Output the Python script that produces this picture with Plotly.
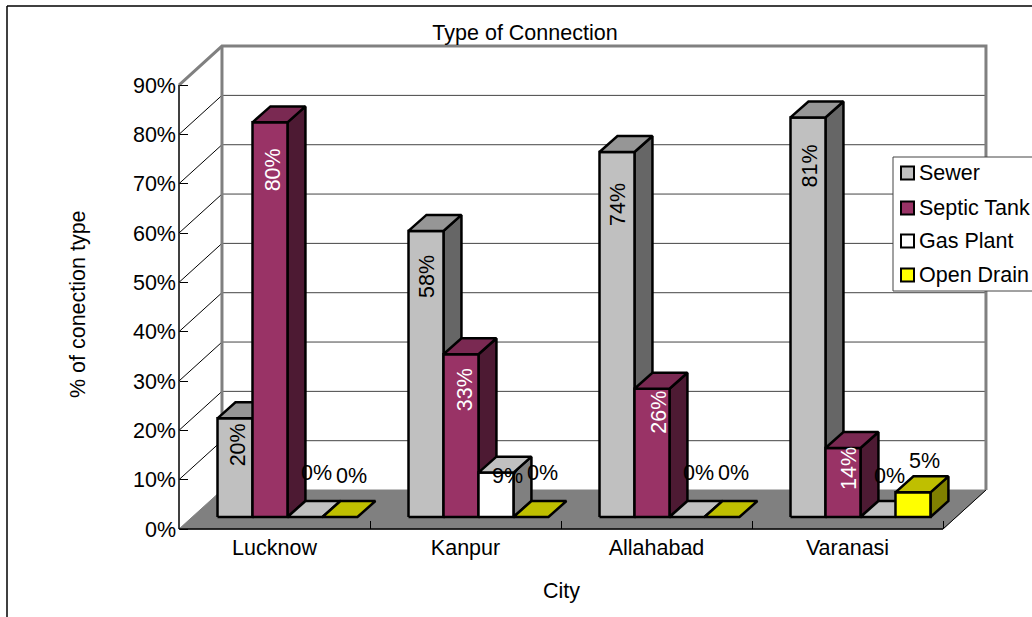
import plotly.graph_objects as go

cities = ["Lucknow", "Kanpur", "Allahabad", "Varanasi"]
series_names = ["Sewer", "Septic Tank", "Gas Plant", "Open Drain"]
sewer = [20, 58, 74, 81]
septic_tank = [80, 33, 26, 14]
gas_plant = [0, 9, 0, 0]
open_drain = [0, 0, 0, 5]
series_values = [sewer, septic_tank, gas_plant, open_drain]
y_ticks = list(range(0, 100, 10))
y_tick_text = [f"{t}%" for t in y_ticks]

# face colours per series: front, top, side
FACES = [
    ("#C0C0C0", "#969696", "#666666"),
    ("#993366", "#7A2952", "#4D1A33"),
    ("#FFFFFF", "#C0C0C0", "#808080"),
    ("#FFFF00", "#BFBF00", "#808000"),
]
FONT = "Liberation Sans, Arial, sans-serif"
FS = 21.5

# plotting rectangle in page pixels; it is larger than the front plane so the
# oblique walls fit inside the clip region
W, H = 1032, 617
L, R, T, B = 170, 1000, 40, 535
# front plane anchors
ORIGIN_X, ORIGIN_Y = 179, 529
PX_PER_CAT, PX_PER_PCT = 191.0, 4.933


def page_x(x):
    return (x - L) / (R - L)


def page_y(y):
    return (B - y) / (B - T)


# oblique projection, in axis units (categories horizontally, percent vertically)
WALL_DX, WALL_DY = 0.225, 7.9
BAR_DX, BAR_DY = 0.094, 3.24
BAR_LIFT = 2.43
BAR_START = 0.2016
BAR_W = 0.1832

# rotated label placement (pixels): drop below the bar top, sideways nudge
ROT_DROP = {0: [27, 46, 53, 49], 1: [47, 35, 23, 20]}
ROT_NUDGE = {0: [3, 1, 1, 2], 1: [3, 4, 7, 6]}
# horizontal label height in percent of the front axis
FLAT_LEVEL = {(0, 2): 11.4, (0, 3): 10.75, (1, 2): 10.75, (1, 3): 11.4,
              (2, 2): 11.4, (2, 3): 11.4, (3, 2): 10.75, (3, 3): 13.8}

fig = go.Figure()


def poly(xs, ys, fill=None, line="#000000", width=2.5):
    fig.add_trace(go.Scatter(
        x=xs, y=ys, mode="lines", showlegend=False, hoverinfo="skip",
        fill="toself" if fill else None, fillcolor=fill,
        line=dict(color=line, width=width),
    ))


# floor
poly([0, 4, 4 + WALL_DX, WALL_DX, 0], [0, 0, WALL_DY, WALL_DY, 0], fill="#808080", line="#808080", width=1)
poly([4, 4 + WALL_DX], [0, WALL_DY], line="#000000", width=1)

# back wall grid and side wall diagonals
for t in y_ticks[1:-1]:
    poly([WALL_DX, 4 + WALL_DX], [t + WALL_DY] * 2, line="#444444", width=1)
    poly([0, WALL_DX], [t, t + WALL_DY], line="#000000", width=1)

# wall outline
poly([0, WALL_DX, 4 + WALL_DX, 4 + WALL_DX],
     [90, 90 + WALL_DY, 90 + WALL_DY, WALL_DY], line="#808080", width=3)
poly([WALL_DX, WALL_DX], [WALL_DY, 90 + WALL_DY], line="#808080", width=3)

# front axis lines
poly([0, 0], [0, 90], line="#000000", width=1.5)
poly([0, 4], [0, 0], line="#000000", width=1.5)

# bars, back to front within each city
annotations = []
for c in range(len(cities)):
    for s, values in enumerate(series_values):
        v = values[c]
        front, top, side = FACES[s]
        x0 = c + BAR_START + s * BAR_W
        x1 = x0 + BAR_W
        y0 = BAR_LIFT
        y1 = BAR_LIFT + v
        if v > 0:
            poly([x1, x1 + BAR_DX, x1 + BAR_DX, x1, x1],
                 [y0, y0 + BAR_DY, y1 + BAR_DY, y1, y0], fill=side)
            poly([x0, x1, x1, x0, x0], [y0, y0, y1, y1, y0], fill=front)
        poly([x0, x1, x1 + BAR_DX, x0 + BAR_DX, x0],
             [y1, y1, y1 + BAR_DY, y1 + BAR_DY, y1], fill=top)

# value labels go on last so later bars never cover them
for c in range(len(cities)):
    for s, values in enumerate(series_values):
        v = values[c]
        x0 = c + BAR_START + s * BAR_W
        if v >= 10:
            annotations.append(dict(
                x=x0 + BAR_W / 2, y=BAR_LIFT + v, text=f"{v}%", textangle=-90, showarrow=False,
                xshift=ROT_NUDGE[s][c], yshift=-ROT_DROP[s][c],
                font=dict(family=FONT, size=FS, color="#FFFFFF" if s == 1 else "#000000"),
            ))
        else:
            annotations.append(dict(
                x=x0 + BAR_W / 2, y=FLAT_LEVEL[(c, s)], text=f"{v}%", showarrow=False, xshift=11.5,
                font=dict(family=FONT, size=FS, color="#000000"),
            ))

# axis titles are centred on the front plane, not on the whole plotting rectangle
annotations.append(dict(xref="x", yref="paper", x=2, y=page_y(591), text="City", showarrow=False,
                        xanchor="center", yanchor="middle",
                        font=dict(family=FONT, size=FS, color="#000000")))
annotations.append(dict(xref="paper", yref="y", x=page_x(78), y=45.6, text="% of conection type", textangle=-90,
                        showarrow=False, xanchor="center", yanchor="middle",
                        font=dict(family=FONT, size=FS, color="#000000")))

# legend panel, running off the right edge of the page
LEGEND_Y = [173, 208, 241, 275]
shapes = [
    dict(type="line", xref="paper", yref="paper", x0=page_x(7), x1=page_x(W + 5),
         y0=page_y(6), y1=page_y(6), line=dict(color="#000000", width=1.5)),
    dict(type="line", xref="paper", yref="paper", x0=page_x(7), x1=page_x(7),
         y0=page_y(6), y1=page_y(H + 5), line=dict(color="#000000", width=1.5)),
    dict(type="rect", xref="paper", yref="paper", x0=page_x(893), x1=page_x(W + 10),
         y0=page_y(157), y1=page_y(291), fillcolor="#FFFFFF", line=dict(color="#444444", width=1)),
]
for s, name in enumerate(series_names):
    yc = LEGEND_Y[s]
    shapes.append(dict(type="rect", xref="paper", yref="paper", x0=page_x(901), x1=page_x(914),
                       y0=page_y(yc - 6.5), y1=page_y(yc + 6.5), fillcolor=FACES[s][0],
                       line=dict(color="#000000", width=2)))
    annotations.append(dict(xref="paper", yref="paper", x=page_x(916.5), y=page_y(yc), text=name,
                            xanchor="left", yanchor="middle", showarrow=False,
                            font=dict(family=FONT, size=FS, color="#000000")))

fig.update_layout(
    width=W, height=H,
    margin=dict(l=L, r=W - R, t=T, b=H - B, pad=0, autoexpand=False),
    paper_bgcolor="#FFFFFF", plot_bgcolor="rgba(0,0,0,0)",
    showlegend=False,
    font=dict(family=FONT, size=FS, color="#000000"),
    title=dict(text="Type of Connection", x=525 / W, y=1 - 32 / H, xanchor="center", yanchor="middle",
               font=dict(family=FONT, size=FS, color="#000000")),
    xaxis=dict(
        range=[(L - ORIGIN_X) / PX_PER_CAT, (R - ORIGIN_X) / PX_PER_CAT],
        anchor="free", position=page_y(ORIGIN_Y),
        tickvals=[i + 0.5 for i in range(4)], ticktext=cities, ticks="", ticklabelstandoff=3,
        showgrid=False, zeroline=False, showline=False,
        minor=dict(tickvals=[1, 2, 3, 4], ticks="inside", ticklen=8, tickcolor="#000000", tickwidth=1, showgrid=False),
        fixedrange=True,
    ),
    yaxis=dict(
        range=[(ORIGIN_Y - B) / PX_PER_PCT, (ORIGIN_Y - T) / PX_PER_PCT],
        anchor="free", position=page_x(ORIGIN_X), ticklabelstandoff=3,
        tickvals=y_ticks, ticktext=y_tick_text, ticks="inside", ticklen=8, tickcolor="#000000", tickwidth=1,
        showgrid=False, zeroline=False, showline=False,
        fixedrange=True,
    ),
    annotations=annotations,
    shapes=shapes,
)

fig.write_html("out.html")
